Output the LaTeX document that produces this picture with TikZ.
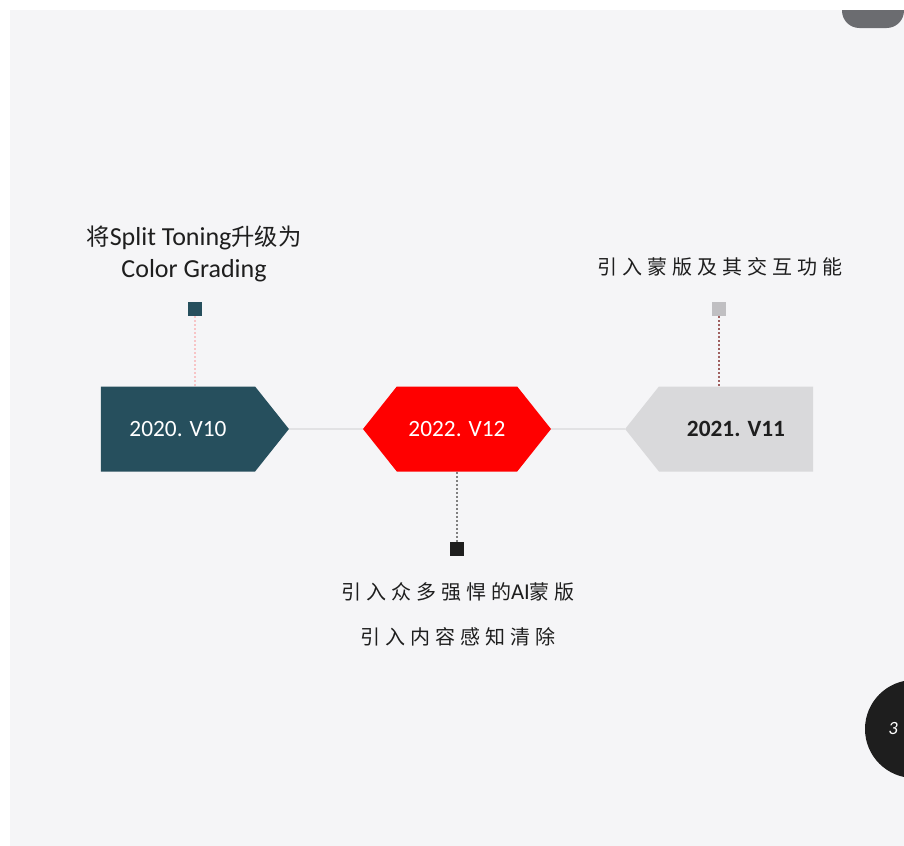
\documentclass[tikz,border=0pt]{standalone}
\usepackage{fontspec}
\setmainfont{Carlito}
\newfontfamily\cjk{Noto Sans CJK SC}
\newfontfamily\cjkwide[LetterSpace=25]{Noto Sans CJK SC}
\usepackage{tikz}
\usetikzlibrary{shapes.symbols,positioning}
\definecolor{pagebg}{HTML}{F5F5F7}
\definecolor{vteal}{HTML}{264F5D}
\definecolor{vred}{HTML}{FF0000}
\definecolor{vgray}{HTML}{D9D9DB}
\definecolor{pingray}{HTML}{C0BFC2}
\definecolor{txt}{HTML}{1E1E1E}
\definecolor{axis}{HTML}{E2E2E4}
\definecolor{topbar}{HTML}{6B6C70}

\begin{document}
\begin{tikzpicture}[x=0.75pt,y=-0.75pt,
  ver/.style={signal,signal pointer angle=103,inner sep=0pt,minimum width=141pt,minimum height=63.75pt,font=\fontsize{17.5}{20}\selectfont},
  pin/.style={rectangle,inner sep=0pt,minimum size=10.5pt},
  lead/.style={line width=0.9pt,dash pattern=on 1.5pt off 1.5pt},
  note/.style={align=center,text=txt}]
\useasboundingbox (0,0) rectangle (904,846);
\fill[white] (0,0) rectangle (904,846);
\fill[pagebg] (10,10) rectangle (904,846);
% page furniture
\fill[topbar] (842,10) [rounded corners=13pt] |- (904,28) [sharp corners] -- (904,10) -- cycle;
\fill[txt] (914,729) circle[radius=36.75pt];
\node[text=white,font=\fontsize{14}{16}\selectfont\itshape] (pg) at (893,729) {3};
% versions
\node[ver,fill=vteal,text=white,signal to=east] (v10) at (178,429) {2020. V10};
\node[ver,fill=vred,text=white,signal to=east and west] (v12) at (457,429) {2022. V12};
\node[ver,fill=vgray,text=txt,signal to=west,font=\fontsize{17.5}{20}\selectfont\bfseries] (v11) at (736,429) {2021. V11};
\draw[axis,line width=0.9pt] (v10.east) -- (v12.west);
\draw[axis,line width=0.9pt] (v12.east) -- (v11.west);
% markers
\node[pin,fill=vteal] (p10) at (195,309) {};
\node[pin,fill=pingray] (p11) at (719,309) {};
\node[pin,fill=txt] (p12) at (457,549) {};
\draw[lead,draw=red!20!pagebg] (p10.south) -- (p10.south |- v10.north);
\draw[lead,draw=red!25!gray] (p11.south) -- (p11.south |- v11.north);
\draw[lead,draw=gray] (v12.south) -- (p12.north);
% notes
\node[note,font=\fontsize{19.5}{24}\selectfont] (n10) at (194,254)
  {{\cjk\fontsize{17.5}{24}\selectfont 将}Split Toning{\cjk\fontsize{17.5}{24}\selectfont 升级为}\\Color Grading};
\node[note,font=\cjkwide\fontsize{15}{20}\selectfont] (n11) at (720,267) {引入蒙版及其交互功能};
\node[note,font=\cjkwide\fontsize{15}{33.75}\selectfont] (n12) at (458,614)
  {引入众多强悍的{\rmfamily\fontsize{17}{20}\selectfont AI}蒙版\\引入内容感知清除};
\end{tikzpicture}
\end{document}
